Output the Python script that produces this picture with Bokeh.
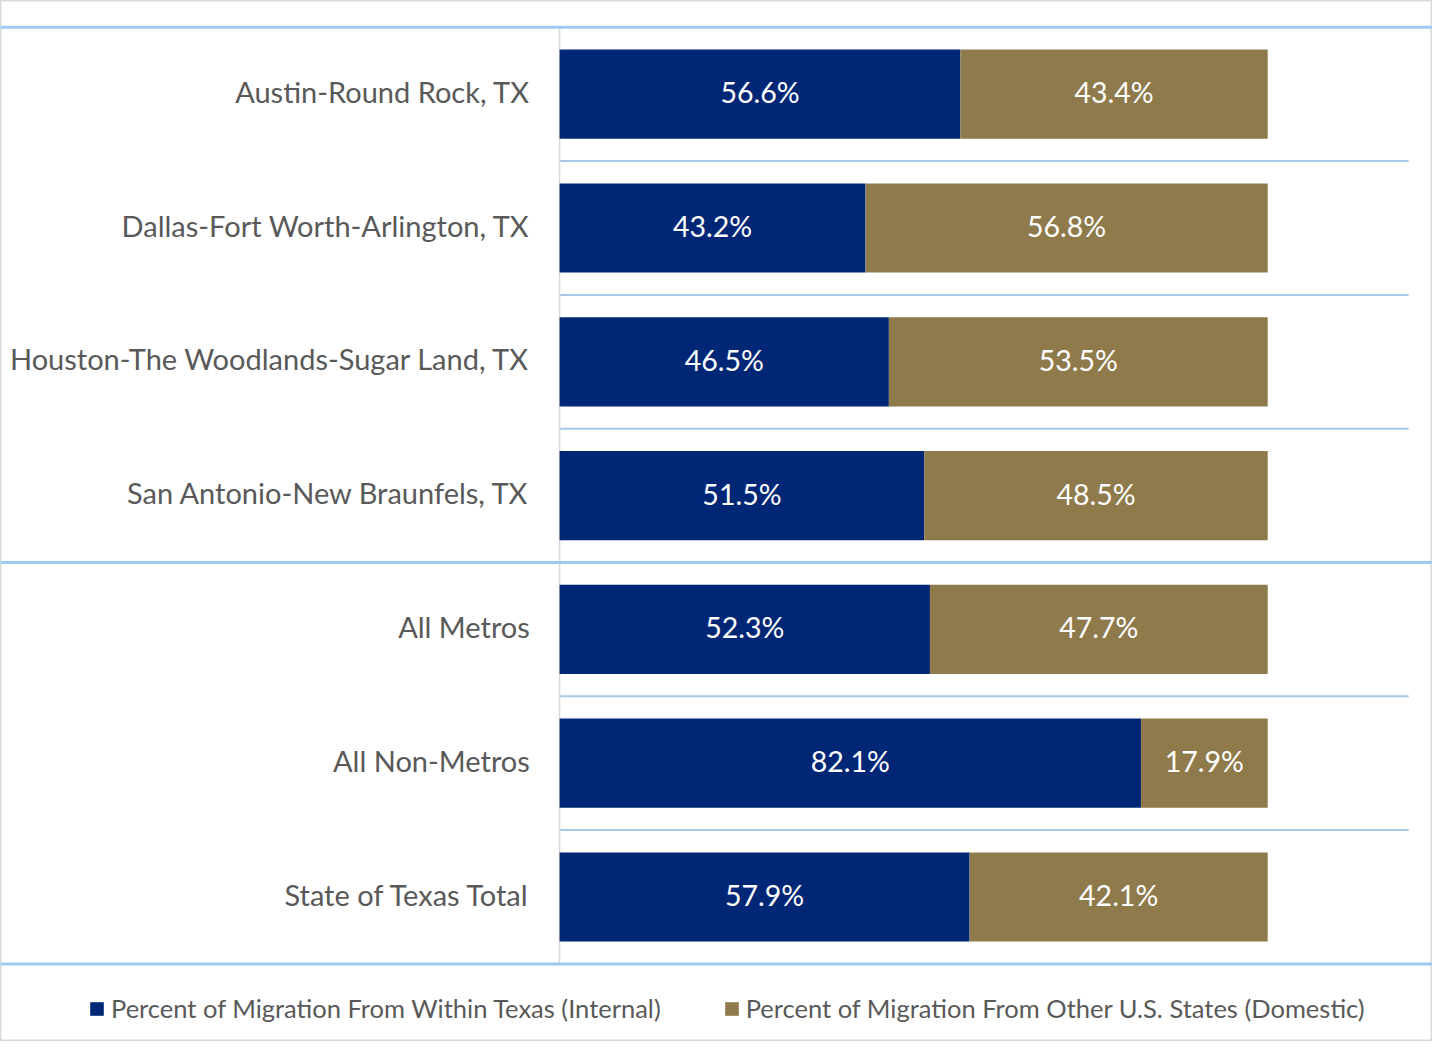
from bokeh.plotting import figure
from bokeh.models import Range1d, Span, Legend, LegendItem
from bokeh.core.properties import value
from bokeh.embed import file_html
from bokeh.resources import INLINE

categories = [
    "Austin-Round Rock, TX",
    "Dallas-Fort Worth-Arlington, TX",
    "Houston-The Woodlands-Sugar Land, TX",
    "San Antonio-New Braunfels, TX",
    "All Metros",
    "All Non-Metros",
    "State of Texas Total",
]
internal = [56.6, 43.2, 46.5, 51.5, 52.3, 82.1, 57.9]
domestic = [43.4, 56.8, 53.5, 48.5, 47.7, 17.9, 42.1]
group_sizes = [4, 3]
series_names = [
    "Percent of Migration From Within Texas (Internal)",
    "Percent of Migration From Other U.S. States (Domestic)",
]

NAVY = "#002776"
BROWN = "#8F7A4C"
LABEL_GRAY = "#595959"
FONT = "Lato"

W, H = 1432, 1041
px_per_unit = 7.081
x0_px = 559.1
x_start = -x0_px / px_per_unit
x_end = (W - x0_px) / px_per_unit
row_px = 133.8
top_px = 26.8
y_top = -top_px / row_px
y_bottom = (H - top_px) / row_px
plot_right = (1408.2 - x0_px) / px_per_unit

p = figure(width=W, height=H, x_range=Range1d(x_start, x_end),
           y_range=Range1d(y_bottom, y_top), x_axis_location=None,
           y_axis_location=None, toolbar_location=None, output_backend="svg",
           min_border=0, title=None)
p.xgrid.visible = False
p.ygrid.visible = False
p.outline_line_color = "#d9d9d9"
p.outline_line_width = 2
p.background_fill_color = "white"
p.border_fill_color = "white"

n = len(categories)
ys = [i + 0.5 for i in range(n)]
totals = [a + b for a, b in zip(internal, domestic)]

# separators
breaks = [0]
for g in group_sizes:
    breaks.append(breaks[-1] + g)
thin = [i for i in range(1, n) if i not in breaks]
p.segment(x0=[0] * len(thin), x1=[plot_right] * len(thin), y0=thin, y1=thin,
          line_color="#A6C8E8", line_width=2)
for b in breaks:
    p.add_layout(Span(location=b, dimension="width", line_color="#9DC9F2",
                      line_width=3))
p.segment(x0=[0], x1=[0], y0=[0], y1=[n], line_color="#d9d9d9", line_width=1.5)

r1 = p.hbar(y=ys, left=0, right=internal, height=0.667, fill_color=NAVY,
            line_color=None)
r2 = p.hbar(y=ys, left=internal, right=totals, height=0.667, fill_color=BROWN,
            line_color=None)

p.text(x=[v / 2 for v in internal], y=ys, text=[f"{v:.1f}%" for v in internal],
       text_color="white", text_align="center", text_baseline="middle",
       text_font=value(FONT), text_font_size="28.5px", y_offset=-2)
p.text(x=[a + b / 2 for a, b in zip(internal, domestic)], y=ys,
       text=[f"{v:.1f}%" for v in domestic], text_color="white",
       text_align="center", text_baseline="middle", text_font=value(FONT),
       text_font_size="28.5px", y_offset=-2)

p.text(x=[-4.2] * n, y=ys, text=categories, text_color=LABEL_GRAY,
       text_align="right", text_baseline="middle", text_font=value(FONT),
       text_font_size="29px", y_offset=-3)

legend = Legend(items=[LegendItem(label=series_names[0], renderers=[r1]),
                       LegendItem(label=series_names[1], renderers=[r2])],
                orientation="horizontal", location=(88, 18),
                label_text_font=FONT, label_text_font_size="25.5px",
                label_text_color=LABEL_GRAY, glyph_width=17, glyph_height=17,
                label_standoff=6, spacing=62, padding=0, margin=0,
                background_fill_alpha=0, border_line_alpha=0)
p.add_layout(legend)

open("out.html", "w").write(file_html(p, INLINE))
